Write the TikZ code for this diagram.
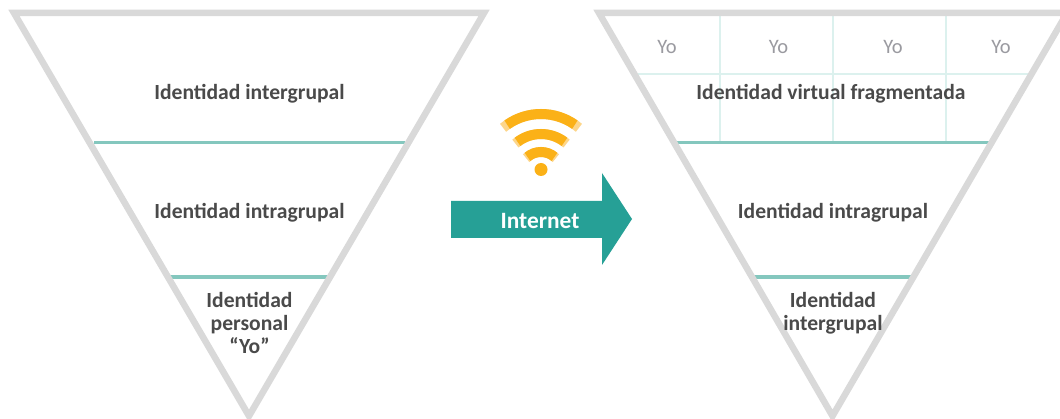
\documentclass[tikz,border=0pt]{standalone}
\usepackage{fontspec}
\setmainfont{Carlito}
\definecolor{tri}{HTML}{D9D9D9}
\definecolor{tealline}{HTML}{84C7BE}
\definecolor{tealarrow}{HTML}{26A096}
\definecolor{gridline}{HTML}{DCF1EE}
\definecolor{txt}{HTML}{4A4A4A}
\definecolor{yotxt}{HTML}{9A9AA0}
\definecolor{wifi}{HTML}{FBB117}
\definecolor{wifilight}{HTML}{FDD68A}
\tikzset{
  x=1pt,y=-1pt,
  tribox/.style={draw=tri,line width=6.5pt,miter limit=20},
  level/.style={draw=tealline,line width=3.8pt},
  grid line/.style={draw=gridline,line width=1.4pt},
  label/.style={text=txt,font=\fontsize{21.6}{23}\selectfont\bfseries,align=center,inner sep=0pt},
  yo/.style={text=yotxt,font=\fontsize{20.5}{24}\selectfont,inner sep=0pt},
  wifilt/.style={draw=wifilight,line width=10pt},
  wifidk/.style={draw=wifi,line width=10pt},
}
\begin{document}
\begin{tikzpicture}
\useasboundingbox[fill=white] (0,0) rectangle (1060,419);
\clip (0,0) rectangle (1060,419);
% left funnel
\draw[level] (94,142.5) -- (405,142.5);
\draw[level] (170,277) -- (328,277);
\draw[tribox] (14,13) -- (484,13) -- (249,416) -- cycle;
\node[label] (l1) at (249.5,94) {Identidad intergrupal};
\node[label] (l2) at (249.5,212.5) {Identidad intragrupal};
\node[label] (l3) at (249.5,323) {Identidad\\personal\\“Yo”};
% right funnel
\draw[grid line] (638,74) -- (1028,74);
\draw[grid line] (720,15) -- (720,142);
\draw[grid line] (833,15) -- (833,142);
\draw[grid line] (946,15) -- (946,142);
\draw[level] (677,142.5) -- (992,142.5);
\draw[level] (753,277) -- (914,277);
\draw[tribox] (599,13) -- (1067,13) -- (832.5,416) -- cycle;
\node[yo] (y1) at (667,47) {Yo};
\node[yo] (y2) at (778.5,47) {Yo};
\node[yo] (y3) at (893,47) {Yo};
\node[yo] (y4) at (1001,47) {Yo};
\node[label] (r1) at (831,94) {Identidad virtual fragmentada};
\node[label] (r2) at (833,212.5) {Identidad intragrupal};
\node[label] (r3) at (833,313.5) {Identidad\\intergrupal};
% arrow
\path[fill=tealarrow] (451,201) -- (602,201) -- (602,173) -- (632,219) -- (602,265) -- (602,238) -- (451,238) -- cycle;
\node[text=white,font=\fontsize{23.4}{27}\selectfont\bfseries,inner sep=0pt] (net) at (540,221) {Internet};
% wifi
\coordinate (wc) at (541,173);
\begin{scope}[y=1pt]
\draw[wifilt] ([shift={(50:59)}]wc) arc[start angle=50,end angle=130,radius=59];
\draw[wifidk] ([shift={(55:59)}]wc) arc[start angle=55,end angle=125,radius=59];
\draw[wifilt] ([shift={(49:39)}]wc) arc[start angle=49,end angle=131,radius=39];
\draw[wifidk] ([shift={(53:39)}]wc) arc[start angle=53,end angle=127,radius=39];
\draw[wifilt] ([shift={(45:21)}]wc) arc[start angle=45,end angle=135,radius=21];
\draw[wifidk] ([shift={(50:21)}]wc) arc[start angle=50,end angle=130,radius=21];
\end{scope}
\fill[wifi] (541,169.5) circle[radius=6.5];
\end{tikzpicture}
\end{document}
